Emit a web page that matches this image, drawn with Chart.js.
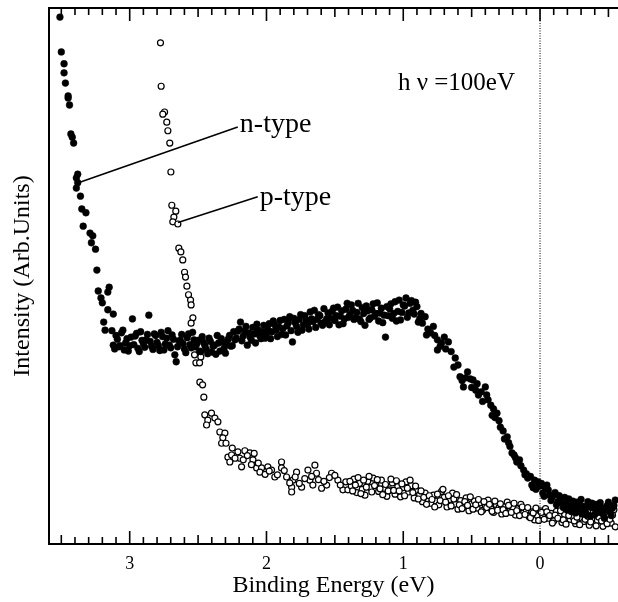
<!DOCTYPE html>
<html>
<head>
<meta charset="utf-8">
<script src="https://cdn.jsdelivr.net/npm/chart.js@4.4.1/dist/chart.umd.min.js"></script>
<style>
  html, body { margin: 0; padding: 0; background: #fff; overflow: hidden; }
  canvas { display: block; }
</style>
</head>
<body>
<canvas id="chart" width="618" height="602"></canvas>
<script>
'use strict';

// ── Data (binding energy eV, intensity arb. units) ─────────────
const N_TYPE = [
  // steep rise at high binding energy
  [3.51, 98.3], [3.50, 91.8], [3.48, 89.6], [3.48, 87.9], [3.47, 86.0], [3.45, 83.6],
  [3.45, 83.2], [3.44, 81.9], [3.43, 76.5], [3.42, 75.9], [3.41, 74.8], [3.39, 68.3],
  [3.38, 69.0], [3.39, 66.4], [3.38, 67.4], [3.36, 64.9], [3.35, 62.5], [3.32, 61.8],
  [3.34, 59.3], [3.29, 58.0], [3.27, 57.5], [3.28, 56.2], [3.25, 55.0], [3.24, 51.1],
  [3.23, 47.2], [3.21, 45.9], [3.20, 45.0], [3.19, 41.4], [3.18, 39.9], [3.16, 47.0],
  [3.15, 47.9], [3.16, 43.7], [3.12, 42.9],
  // valence band plateau
  [3.12, 37.1], [3.10, 38.9], [3.08, 36.8], [3.06, 39.4], [3.04, 36.2], [3.02, 38.3],
  [3.00, 37.0], [2.98, 42.0], [2.96, 38.8], [2.94, 36.5], [2.92, 39.6], [2.90, 37.4],
  [2.88, 38.1], [2.86, 42.7], [2.84, 36.9], [2.82, 39.2], [2.80, 37.6], [2.78, 36.1],
  [2.76, 38.7], [2.74, 37.3], [2.72, 39.8], [2.70, 36.6], [2.68, 38.2], [2.67, 35.3],
  [2.66, 34.0], [2.64, 37.9], [2.62, 39.1], [2.60, 36.4], [2.58, 38.5], [2.56, 37.2],
  [2.54, 39.5], [2.52, 36.8], [2.50, 38.0], [2.48, 35.9], [2.46, 37.6], [2.44, 36.3],
  [2.42, 38.4], [2.40, 35.8], [2.38, 37.1], [2.36, 38.9], [2.34, 36.0], [2.32, 37.7],
  [2.30, 35.6], [2.28, 38.2], [2.26, 36.9], [2.24, 39.6], [2.22, 38.4], [2.20, 40.1],
  [2.19, 41.4], [2.18, 37.9], [2.16, 39.7], [2.14, 37.1], [2.12, 38.6], [2.10, 40.4],
  [2.08, 37.5], [2.06, 39.9], [2.04, 38.3], [2.02, 40.8], [2.00, 39.2], [1.98, 41.1],
  [1.96, 39.6], [1.94, 40.9], [1.92, 38.7], [1.90, 41.7], [1.88, 40.2], [1.86, 39.0],
  [1.84, 41.3], [1.82, 39.8], [1.81, 37.7], [1.80, 42.1], [1.78, 40.6], [1.76, 41.9],
  [1.74, 39.9], [1.72, 42.6], [1.70, 41.0], [1.68, 43.3], [1.66, 41.5], [1.64, 40.4],
  [1.62, 42.8], [1.60, 41.2], [1.58, 43.9], [1.56, 42.0], [1.54, 40.9], [1.52, 43.4],
  [1.50, 41.7], [1.48, 44.2], [1.46, 42.5], [1.44, 41.1], [1.42, 43.8], [1.40, 42.3],
  [1.38, 44.6], [1.36, 41.9], [1.34, 43.2], [1.32, 42.0], [1.30, 44.1], [1.28, 40.8],
  [1.26, 43.5], [1.24, 42.2], [1.22, 44.8], [1.20, 43.0], [1.18, 41.6], [1.16, 44.0],
  [1.14, 42.7], [1.13, 38.6], [1.10, 43.9], [1.08, 42.1], [1.06, 45.2], [1.04, 43.4],
  [1.02, 41.8], [1.00, 44.6], [0.98, 45.9], [0.96, 43.1], [0.94, 45.4], [0.92, 42.9],
  [0.90, 44.3], [0.88, 42.0],
  [3.13, 39.8], [3.11, 36.4], [3.09, 38.2], [3.07, 37.0], [3.05, 39.9], [3.03, 37.5],
  [3.01, 36.0], [2.99, 38.6], [2.97, 37.2], [2.95, 39.3], [2.93, 35.9], [2.91, 38.0],
  [2.89, 36.7], [2.87, 39.1], [2.85, 37.8], [2.83, 36.3], [2.81, 38.9], [2.79, 37.0],
  [2.77, 39.5], [2.75, 36.2], [2.73, 38.4], [2.71, 37.1], [2.69, 39.0], [2.65, 36.8],
  [2.63, 38.0], [2.61, 37.4], [2.59, 35.7], [2.57, 39.2], [2.55, 36.6], [2.53, 38.1],
  [2.51, 37.3], [2.49, 36.0], [2.47, 38.7], [2.45, 37.0], [2.43, 35.5], [2.41, 37.8],
  [2.39, 36.9], [2.37, 35.4], [2.35, 37.5], [2.33, 38.3], [2.31, 36.5], [2.29, 37.2],
  [2.27, 38.9], [2.25, 37.0], [2.23, 38.1], [2.21, 39.7], [2.17, 38.8], [2.15, 40.6],
  [2.13, 39.4], [2.11, 38.0], [2.09, 39.2], [2.07, 41.0], [2.05, 38.9], [2.03, 39.6],
  [2.01, 38.4], [1.99, 40.0], [1.97, 38.3], [1.95, 41.6], [1.93, 39.9], [1.91, 40.5],
  [1.89, 39.1], [1.87, 41.9], [1.85, 40.7], [1.83, 42.4], [1.79, 41.3], [1.77, 39.5],
  [1.75, 42.8], [1.73, 40.9], [1.71, 41.8], [1.69, 40.1], [1.67, 42.0], [1.65, 43.6],
  [1.63, 41.9], [1.61, 42.6], [1.59, 40.8], [1.57, 41.5], [1.55, 43.1], [1.53, 42.1],
  [1.51, 44.0], [1.49, 42.6], [1.47, 40.9], [1.45, 43.5], [1.43, 42.0], [1.41, 44.9],
  [1.39, 42.8], [1.37, 43.6], [1.35, 42.2], [1.33, 44.9], [1.31, 41.5], [1.29, 43.0],
  [1.27, 44.4], [1.25, 41.9], [1.23, 43.7], [1.21, 42.5], [1.19, 45.0], [1.17, 43.1],
  [1.15, 41.3], [1.12, 44.3], [1.11, 42.6], [1.09, 44.8], [1.07, 43.0], [1.05, 41.6],
  [1.03, 45.5], [1.01, 43.2], [0.99, 44.4], [0.97, 42.3], [0.95, 44.9], [0.93, 43.6],
  [0.91, 45.1], [0.89, 41.4], [0.87, 43.0],
  // Fermi edge and above
  [0.86, 41.2], [0.84, 42.4], [0.82, 40.1], [0.80, 39.4], [0.78, 40.6], [0.75, 38.1],
  [0.75, 36.2], [0.72, 37.5], [0.70, 38.6], [0.67, 37.7], [0.65, 35.9], [0.62, 34.7],
  [0.60, 33.4], [0.585, 31.2], [0.56, 29.3], [0.545, 31.0], [0.53, 32.1], [0.51, 30.8],
  [0.49, 30.6], [0.47, 28.7], [0.45, 27.8], [0.43, 28.4], [0.40, 29.3], [0.38, 26.9],
  [0.36, 25.9], [0.34, 25.2], [0.315, 24.4], [0.29, 21.8], [0.27, 21.1], [0.24, 20.0],
  [0.22, 18.2], [0.205, 17.0], [0.19, 16.6], [0.17, 15.3], [0.15, 15.7], [0.12, 13.8],
  [0.10, 13.1], [0.09, 12.3], [0.06, 11.0], [0.04, 11.9], [0.015, 11.6], [0.00, 10.8],
  [-0.02, 9.5], [-0.04, 10.4], [-0.05, 11.0], [-0.07, 9.1], [-0.09, 8.8], [-0.11, 9.6],
  [-0.13, 7.9], [-0.15, 8.2], [-0.17, 6.8], [-0.19, 7.5], [-0.21, 8.4], [-0.23, 6.2],
  [-0.25, 6.9], [-0.27, 7.8], [-0.29, 7.3], [-0.31, 5.6], [-0.33, 6.5], [-0.35, 7.9],
  [-0.37, 5.2], [-0.39, 6.7], [-0.41, 7.4], [-0.43, 5.9], [-0.45, 6.8], [-0.47, 4.8],
  [-0.49, 7.1], [-0.51, 6.0], [-0.53, 6.7], [-0.55, 8.2],
  [0.83, 39.0], [0.77, 38.9], [0.73, 36.9], [0.69, 36.4], [0.63, 33.0], [0.57, 30.5],
  [0.50, 29.2], [0.46, 29.9], [0.42, 26.6], [0.39, 27.8], [0.35, 24.0], [0.33, 23.6],
  [0.30, 23.0], [0.26, 19.6], [0.23, 18.9], [0.18, 16.1], [0.14, 14.6], [0.11, 12.9],
  [0.07, 12.6], [0.05, 10.5], [0.03, 10.2], [0.01, 10.9], [-0.01, 11.3], [-0.03, 8.9],
  [-0.06, 10.1], [-0.08, 8.1], [-0.10, 9.2], [-0.12, 7.3], [-0.14, 9.0], [-0.16, 7.6],
  [-0.18, 8.7], [-0.20, 6.4], [-0.22, 7.1], [-0.24, 8.0], [-0.26, 5.8], [-0.28, 6.6],
  [-0.30, 8.3], [-0.32, 7.0], [-0.34, 5.4], [-0.36, 6.9], [-0.38, 7.6], [-0.40, 5.5],
  [-0.42, 6.3], [-0.44, 7.7], [-0.46, 5.6], [-0.48, 6.4], [-0.50, 7.8], [-0.52, 5.3],
  [-0.54, 7.2]
];

const P_TYPE = [
  [2.775, 93.5], [2.770, 85.4], [2.745, 80.6], [2.758, 80.2], [2.729, 78.7], [2.721, 77.1],
  [2.707, 74.8], [2.699, 69.4], [2.692, 63.2], [2.663, 62.1], [2.677, 61.0], [2.685, 60.1],
  [2.648, 59.7], [2.641, 55.2], [2.626, 54.5], [2.612, 53.0], [2.599, 50.7], [2.592, 49.8],
  [2.582, 48.1], [2.570, 46.5], [2.555, 45.5], [2.551, 44.6], [2.538, 42.2], [2.551, 41.2],
  [2.526, 35.3], [2.516, 33.8], [2.480, 34.9], [2.489, 33.8], [2.487, 30.2], [2.467, 29.7],
  [2.458, 27.4], [2.451, 24.1], [2.402, 24.4], [2.429, 23.1], [2.377, 23.5], [2.355, 22.8],
  [2.438, 22.2], [2.341, 20.9], [2.304, 20.7], [2.319, 19.8], [2.328, 18.8], [2.296, 18.8],
  [2.282, 16.2], [2.255, 16.6], [2.209, 17.2], [2.158, 17.4], [2.121, 17.0], [2.268, 15.3],
  [2.195, 16.0], [2.182, 14.4], [2.099, 15.7], [2.072, 14.2], [2.036, 14.2], [1.990, 14.4],
  [1.963, 13.8], [2.048, 13.4], [1.939, 12.5], [1.890, 15.3], [1.890, 14.2], [1.853, 12.5],
  [1.780, 13.4], [1.807, 11.9], [1.816, 10.6], [1.816, 9.7], [1.743, 10.6], [1.697, 13.8],
  [1.646, 14.7], [1.634, 13.2], [1.683, 11.9], [1.661, 11.0], [1.597, 10.4], [1.560, 11.0],
  [1.524, 13.2], [1.478, 11.9], [1.441, 10.1], [1.405, 10.1],
  [2.25, 17.9], [2.23, 16.0], [2.17, 15.7], [2.14, 16.5], [2.11, 14.8], [2.09, 16.9],
  [2.06, 15.1], [2.01, 13.0], [1.98, 13.6], [1.92, 12.9], [1.87, 13.7], [1.83, 11.4],
  [1.79, 12.5], [1.76, 11.3], [1.72, 12.2], [1.67, 12.6], [1.62, 12.0], [1.58, 11.7],
  [1.54, 12.4], [1.50, 12.8], [1.46, 11.0], [1.42, 11.6],
  [1.38, 10.8], [1.36, 12.1], [1.34, 9.6], [1.32, 11.3], [1.30, 10.2], [1.28, 9.1],
  [1.26, 11.7], [1.24, 10.5], [1.22, 12.3], [1.20, 11.0], [1.18, 9.8], [1.16, 11.9],
  [1.14, 10.4], [1.12, 8.9], [1.10, 10.1], [1.08, 11.4], [1.06, 9.3], [1.04, 10.7],
  [1.02, 8.8], [1.00, 10.5], [0.98, 11.6], [0.96, 9.7], [0.94, 10.9], [0.92, 8.6],
  [0.90, 10.0], [0.88, 9.2], [0.86, 7.9], [0.84, 9.5], [0.82, 8.4], [0.80, 7.6],
  [0.78, 9.1], [0.76, 8.0], [0.74, 7.3], [0.72, 9.8], [0.70, 8.7], [0.68, 6.9],
  [0.66, 8.3], [0.64, 9.5], [0.62, 7.4], [0.60, 6.5], [0.58, 8.1], [0.56, 7.0],
  [0.54, 8.6], [0.52, 6.2], [0.50, 7.5], [0.48, 8.0], [0.46, 6.7], [0.44, 7.7],
  [0.42, 6.3], [0.40, 7.1], [0.38, 8.2], [0.36, 6.6], [0.34, 5.9], [0.32, 7.3],
  [0.30, 6.8], [0.28, 5.6], [0.26, 7.0], [0.24, 7.8], [0.22, 6.1], [0.20, 6.9],
  [0.18, 5.4], [0.16, 6.6], [0.14, 7.4], [0.12, 5.8], [0.10, 6.3], [0.08, 5.1],
  [0.06, 6.0], [0.04, 4.5], [0.02, 5.3], [0.00, 6.2], [-0.02, 5.0], [-0.04, 6.6],
  [-0.06, 4.8], [-0.08, 5.7], [-0.10, 4.3], [-0.12, 6.1], [-0.14, 5.2], [-0.16, 4.0],
  [-0.18, 5.5], [-0.20, 6.3], [-0.22, 4.6], [-0.24, 5.1], [-0.26, 3.8], [-0.28, 5.9],
  [-0.30, 4.9], [-0.32, 4.2], [-0.34, 5.6], [-0.36, 3.5], [-0.38, 4.7], [-0.40, 5.8],
  [-0.42, 4.4], [-0.44, 5.2], [-0.46, 3.3], [-0.48, 4.9], [-0.50, 5.5], [-0.52, 3.9],
  [-0.54, 6.4],
  [1.39, 11.7], [1.37, 9.9], [1.35, 11.0], [1.33, 12.4], [1.31, 9.4], [1.29, 11.9],
  [1.27, 10.6], [1.25, 12.6], [1.23, 9.7], [1.21, 10.9], [1.19, 12.0], [1.17, 10.3],
  [1.15, 9.2], [1.13, 11.1], [1.11, 9.9], [1.09, 12.1], [1.07, 10.0], [1.05, 11.8],
  [1.03, 9.9], [1.01, 11.2], [0.99, 9.0], [0.97, 10.4], [0.95, 11.9], [0.93, 9.6],
  [0.91, 10.8], [0.89, 8.4], [0.87, 9.9], [0.85, 8.7], [0.83, 7.4], [0.81, 9.0],
  [0.79, 8.3], [0.77, 6.9], [0.75, 9.3], [0.73, 8.1], [0.71, 10.2], [0.69, 7.8],
  [0.67, 9.0], [0.65, 7.1], [0.63, 8.4], [0.61, 9.2], [0.59, 7.3], [0.57, 6.6],
  [0.55, 7.9], [0.53, 7.2], [0.51, 8.8], [0.49, 6.5], [0.47, 7.3], [0.45, 8.3],
  [0.43, 6.0], [0.41, 7.9], [0.39, 6.8], [0.37, 7.4], [0.35, 6.1], [0.33, 8.0],
  [0.31, 6.3], [0.29, 7.5], [0.27, 6.4], [0.25, 5.7], [0.23, 7.2], [0.21, 5.9],
  [0.19, 7.6], [0.17, 6.2], [0.15, 5.3], [0.13, 6.9], [0.11, 5.5], [0.09, 6.8],
  [0.07, 4.9], [0.05, 5.8], [0.03, 6.7], [0.01, 4.4], [-0.01, 5.9], [-0.03, 4.6],
  [-0.05, 6.0], [-0.07, 5.3], [-0.09, 3.9], [-0.11, 5.4], [-0.13, 4.8], [-0.15, 6.2],
  [-0.17, 4.5], [-0.19, 3.7], [-0.21, 5.3], [-0.23, 6.0], [-0.25, 4.3], [-0.27, 5.0],
  [-0.29, 3.6], [-0.31, 5.7], [-0.33, 4.6], [-0.35, 5.2], [-0.37, 4.1], [-0.39, 6.1],
  [-0.41, 3.4], [-0.43, 5.0], [-0.45, 4.3], [-0.47, 5.9], [-0.49, 3.8], [-0.51, 4.6],
  [-0.53, 5.4], [-0.55, 3.2]
];

// ── Axis ────────────────────────────────────────────────────────
const X_TICKS = [3, 2, 1, 0];
const MAJOR_MARKS = [3.0, 2.0, 1.0, 0.0];
const HALF_MARKS = [3.5, 2.5, 1.5, 0.5, -0.5];
const MINOR_MARKS = [
  3.4, 3.3, 3.2, 3.1, 2.9, 2.8, 2.7, 2.6, 2.4, 2.3, 2.2, 2.1,
  1.9, 1.8, 1.7, 1.6, 1.4, 1.3, 1.2, 1.1, 0.9, 0.8, 0.7, 0.6,
  0.4, 0.3, 0.2, 0.1, -0.1, -0.2, -0.3, -0.4
];
const Y_MIN = 0;
const Y_MAX = 100;
const FERMI_LEVEL = 0;

// text labels with their leader lines (data coords)
const LABELS = [
  { text: 'n-type', from: [3.375, 67.4], to: [2.21, 77.8], at: [2.195, 76.9] },
  { text: 'p-type', from: [2.647, 60.0], to: [2.064, 64.8], at: [2.050, 63.2] },
  { text: 'h \u03BD =100eV', at: [1.039, 84.7] }
];

// ── Style ───────────────────────────────────────────────────────
const SERIF = "'Liberation Serif', 'Times New Roman', serif";
const INK = '#000';

const toXY = pts => pts.map(([x, y]) => ({ x, y }));

// inward tick marks: a vertical line marker sitting on the frame edge,
// clipped by the chart area so only the inner half shows
function tickMarks(values, yValue, length) {
  return {
    label: 'ticks',
    data: values.map(v => ({ x: v, y: yValue })),
    pointStyle: 'line',
    rotation: 90,
    pointRadius: length,
    pointBorderColor: INK,
    pointBorderWidth: 1.6,
    clip: 0
  };
}

// ── Frame + annotations ─────────────────────────────────────────
const framePlugin = {
  id: 'frame',
  afterDraw(chart) {
    const ctx = chart.ctx;
    const a = chart.chartArea;
    const xs = chart.scales.x;
    const ys = chart.scales.y;
    ctx.save();
    ctx.setLineDash([]);
    ctx.fillStyle = INK;
    ctx.strokeStyle = INK;

    // frame (top, left, bottom)
    ctx.fillRect(a.left, a.top - 1, a.right - a.left, 2);
    ctx.fillRect(a.left - 1, a.top - 1, 2, a.bottom - a.top + 2);
    ctx.fillRect(a.left, a.bottom - 1, a.right - a.left, 2);

    // annotations
    ctx.textBaseline = 'alphabetic';
    ctx.textAlign = 'left';
    LABELS.forEach(l => {
      if (l.from) {
        ctx.lineWidth = 1.6;
        ctx.beginPath();
        ctx.moveTo(xs.getPixelForValue(l.from[0]), ys.getPixelForValue(l.from[1]));
        ctx.lineTo(xs.getPixelForValue(l.to[0]), ys.getPixelForValue(l.to[1]));
        ctx.stroke();
        ctx.font = '28px ' + SERIF;
      } else {
        ctx.font = '25px ' + SERIF;
      }
      ctx.fillText(l.text, xs.getPixelForValue(l.at[0]), ys.getPixelForValue(l.at[1]));
    });
    ctx.restore();
  }
};

// ── Chart ───────────────────────────────────────────────────────
new Chart(document.getElementById('chart'), {
  type: 'scatter',
  data: {
    datasets: [
      {
        label: 'Fermi level',
        data: [{ x: FERMI_LEVEL, y: Y_MIN }, { x: FERMI_LEVEL, y: Y_MAX }],
        showLine: true,
        borderColor: INK,
        borderWidth: 1,
        borderDash: [1, 1.5],
        pointRadius: 0
      },
      tickMarks(MAJOR_MARKS, Y_MIN, 13),
      tickMarks(MAJOR_MARKS, Y_MAX, 13),
      tickMarks(HALF_MARKS, Y_MIN, 9),
      tickMarks(HALF_MARKS, Y_MAX, 9),
      tickMarks(MINOR_MARKS, Y_MIN, 7),
      tickMarks(MINOR_MARKS, Y_MAX, 7),
      {
        label: 'n-type',
        data: toXY(N_TYPE),
        pointRadius: 3.4,
        pointBackgroundColor: INK,
        pointBorderColor: INK,
        pointBorderWidth: 0.5
      },
      {
        label: 'p-type',
        data: toXY(P_TYPE),
        pointRadius: 3,
        pointBackgroundColor: '#fff',
        pointBorderColor: INK,
        pointBorderWidth: 1.2
      }
    ]
  },
  options: {
    responsive: false,
    animation: false,
    devicePixelRatio: 1,
    layout: { autoPadding: false, padding: { top: 8, right: 0, left: 0, bottom: 0 } },
    plugins: {
      legend: { display: false },
      tooltip: { enabled: false }
    },
    scales: {
      x: {
        type: 'linear',
        reverse: true,
        min: -0.57,
        max: 3.59,
        afterBuildTicks: axis => { axis.ticks = X_TICKS.map(v => ({ value: v })); },
        afterFit: axis => {
          axis.height = 58;
          axis.paddingLeft = 0;
          axis.paddingRight = 0;
        },
        grid: { display: false, drawTicks: false },
        border: { display: false },
        ticks: {
          color: INK,
          padding: 9,
          maxRotation: 0,
          font: { family: SERIF, size: 18 }
        },
        title: {
          display: true,
          text: 'Binding Energy (eV)',
          color: INK,
          padding: { top: 0, bottom: 2 },
          font: { family: SERIF, size: 24 }
        }
      },
      y: {
        type: 'linear',
        min: Y_MIN,
        max: Y_MAX,
        afterFit: axis => { axis.width = 49; },
        grid: { display: false, drawTicks: false },
        border: { display: false },
        ticks: { display: false },
        title: {
          display: true,
          text: 'Intensity (Arb.Units)',
          color: INK,
          padding: { top: 8, bottom: 0 },
          font: { family: SERIF, size: 24 }
        }
      }
    }
  },
  plugins: [framePlugin]
});
</script>
</body>
</html>
